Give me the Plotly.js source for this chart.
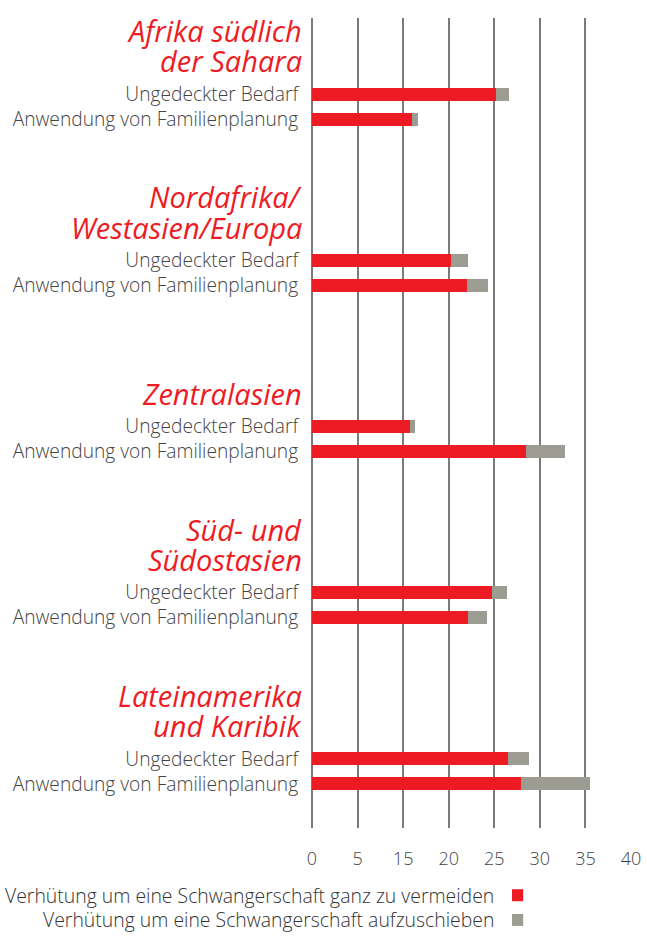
<!DOCTYPE html>
<html><head><meta charset="utf-8">
<script src="https://cdn.plot.ly/plotly-3.0.1.min.js"></script>
<style>html,body{margin:0;padding:0;background:#fff}#c{width:647px;height:944px}</style>
</head><body><div id="c"></div>
<script>
// Data
const regionTitles = [["Afrika südlich","der Sahara"],["Nordafrika/","Westasien/Europa"],["Zentralasien"],["Süd- und","Südostasien"],["Lateinamerika","und Karibik"]];
const rowLabels = ["Ungedeckter Bedarf","Anwendung von Familienplanung"];
const avoidUnmet = [20.2, 15.2, 10.8, 19.8, 21.5];
const delayUnmet = [1.4, 1.9, 0.5, 1.6, 2.3];
const avoidUse   = [11.0, 17.0, 23.5, 17.1, 22.9];
const delayUse   = [0.6, 2.3, 4.3, 2.1, 7.6];
const xTickVals = [0,5,10,15,20,25,30,35];
const xTickText = ["0","5","15","20","25","30","35","40"];
const legendLabels = ["Verhütung um eine Schwangerschaft ganz zu vermeiden","Verhütung um eine Schwangerschaft aufzuschieben"];

const RED = "#ed1c24", GRAY = "#9c9c93";
const ROW = 0.1506; // offset of second row within a group
const FONT = "'Open Sans', Lato, sans-serif";

const yUnmet = regionTitles.map((_, g) => g);
const yUse = regionTitles.map((_, g) => g + ROW);
const ys = [], avoid = [], delay = [];
for (let g = 0; g < regionTitles.length; g++) {
  ys.push(yUnmet[g], yUse[g]);
  avoid.push(avoidUnmet[g], avoidUse[g]);
  delay.push(delayUnmet[g], delayUse[g]);
}
const tickVals = ys;
const tickText = ys.map((_, i) => rowLabels[i % 2]);

const traces = [
  {type:"bar", orientation:"h", y: ys, x: avoid, marker:{color:RED}, width:0.079, name:legendLabels[0], hoverinfo:"x"},
  {type:"bar", orientation:"h", y: ys, x: delay, marker:{color:GRAY}, width:0.079, name:legendLabels[1], hoverinfo:"x"}
];

const annotations = [];
regionTitles.forEach((lines, g) => {
  const n = lines.length;
  lines.forEach((t, i) => {
    const fromBottom = n - 1 - i;
    annotations.push({
      xref:"paper", yref:"y", x:-0.028, y: g - 0.20 - fromBottom*0.181,
      xanchor:"right", yanchor:"middle", showarrow:false, text:t, borderpad:0,
      font:{family:FONT, size:29, color:RED, style:"italic"}
    });
  });
});
[RED, GRAY].forEach((col, i) => {
  const yp = -0.083 - i*0.0305;
  annotations.push({xref:"paper", yref:"paper", x:0.577, y:yp, xanchor:"right", yanchor:"middle",
    showarrow:false, text:legendLabels[i], font:{family:FONT, size:19.4, color:"#333", weight:300}});
});

const layout = {
  width:647, height:944,
  margin:{l:312, r:16, t:18, b:116},
  barmode:"stack", showlegend:false,
  paper_bgcolor:"#fff", plot_bgcolor:"#fff",
  xaxis:{range:[0,35], tickvals:xTickVals, ticktext:xTickText, showgrid:true, gridcolor:"#7a7a7a", gridwidth:2,
    zeroline:true, zerolinecolor:"#7a7a7a", zerolinewidth:2, showline:false, ticks:"outside", ticklen:14, tickcolor:"rgba(0,0,0,0)",
    tickfont:{family:FONT, size:18, color:"#444", weight:300}, fixedrange:true},
  yaxis:{range:[4.416,-0.458], tickvals:tickVals, ticktext:tickText, showgrid:false, zeroline:false, showline:false,
    ticks:"outside", ticklen:9, tickcolor:"rgba(0,0,0,0)", tickfont:{family:FONT, size:19.2, color:"#444", weight:300}, fixedrange:true},
  annotations: annotations,
  shapes: []
};
[RED, GRAY].forEach((col, i) => {
  const yc = -0.083 - i*0.0305;
  layout.shapes.push({type:"rect", xref:"paper", yref:"paper", x0:0.627, x1:0.662, y0:yc-0.0074, y1:yc+0.0074, fillcolor:col, line:{width:0}});
});
Plotly.newPlot("c", traces, layout, {displayModeBar:false, staticPlot:true});
</script></body></html>
